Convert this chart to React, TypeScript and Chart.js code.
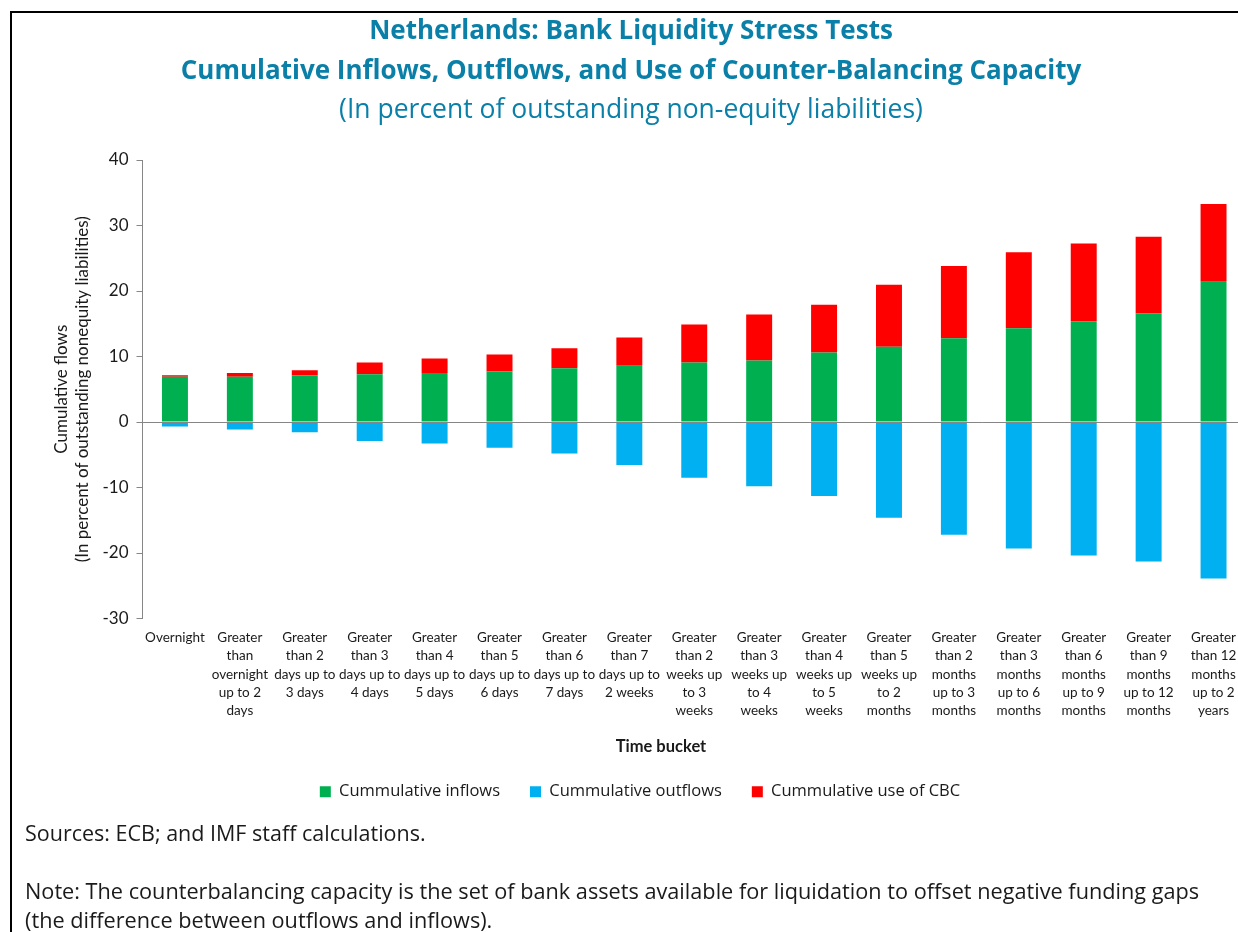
import React, { useEffect, useRef } from "react";
import { Chart, registerables } from "chart.js";

Chart.register(...registerables);

const categories: string[][] = [
  ["Overnight"],
  ["Greater", "than", "overnight", "up to 2", "days"],
  ["Greater", "than 2", "days up to", "3 days"],
  ["Greater", "than 3", "days up to", "4 days"],
  ["Greater", "than 4", "days up to", "5 days"],
  ["Greater", "than 5", "days up to", "6 days"],
  ["Greater", "than 6", "days up to", "7 days"],
  ["Greater", "than 7", "days up to", "2 weeks"],
  ["Greater", "than 2", "weeks up", "to 3", "weeks"],
  ["Greater", "than 3", "weeks up", "to 4", "weeks"],
  ["Greater", "than 4", "weeks up", "to 5", "weeks"],
  ["Greater", "than 5", "weeks up", "to 2", "months"],
  ["Greater", "than 2", "months", "up to 3", "months"],
  ["Greater", "than 3", "months", "up to 6", "months"],
  ["Greater", "than 6", "months", "up to 9", "months"],
  ["Greater", "than 9", "months", "up to 12", "months"],
  ["Greater", "than 12", "months", "up to 2", "years"],
];

const inflows = [6.9, 6.9, 7.1, 7.3, 7.5, 7.7, 8.2, 8.6, 9.1, 9.4, 10.6, 11.5, 12.8, 14.3, 15.4, 16.6, 21.4];
const outflows = [-0.7, -1.15, -1.55, -2.9, -3.3, -3.95, -4.8, -6.55, -8.5, -9.8, -11.3, -14.6, -17.2, -19.3, -20.4, -21.3, -23.9];
const cbcUse = [0.25, 0.6, 0.8, 1.8, 2.2, 2.6, 3.05, 4.3, 5.8, 7.0, 7.3, 9.45, 11.0, 11.6, 11.85, 11.7, 11.9];

const seriesNames = ["Cummulative inflows", "Cummulative outflows", "Cummulative use of CBC"];
const seriesColors = ["#00B050", "#00B0F0", "#FF0000"];

const titleLines = [
  "Netherlands: Bank Liquidity Stress Tests",
  "Cumulative Inflows, Outflows, and Use of Counter-Balancing Capacity",
];
const subtitleText = "(In percent of outstanding non-equity liabilities)";
const yTitleLines = ["Cumulative flows", "(In percent of outstanding nonequity liabilities)"];
const xTitleText = "Time bucket";
const sourcesText = "Sources: ECB; and IMF staff calculations.";
const noteLines = [
  "Note: The counterbalancing capacity is the set of bank assets available for liquidation to offset negative funding gaps",
  "(the difference between outflows and inflows).",
];

const yMin = -30;
const yMax = 40;
const yStep = 10;

const TITLE_COLOR = "#0A7FA8";

const zeroLinePlugin = {
  id: "zeroLine",
  afterDatasetsDraw(chart: any) {
    const { ctx, chartArea, scales } = chart;
    const y = Math.round(scales.y.getPixelForValue(0)) + 0.5;
    ctx.save();
    ctx.strokeStyle = "#868686";
    ctx.lineWidth = 1;
    ctx.beginPath();
    ctx.moveTo(chartArea.left, y);
    ctx.lineTo(chartArea.right + 20, y);
    ctx.stroke();
    ctx.restore();
  },
};

const legendShiftPlugin = {
  id: "legendShift",
  afterLayout(chart: any) {
    const lg = chart.legend;
    if (lg) {
      lg.left += 9;
      lg.right += 9;
    }
  },
};

export default function App() {
  const canvasRef = useRef<HTMLCanvasElement | null>(null);

  useEffect(() => {
    if (!canvasRef.current) return;
    const chart = new Chart(canvasRef.current, {
      type: "bar",
      data: {
        labels: categories,
        datasets: [
          { label: seriesNames[0], data: inflows, backgroundColor: seriesColors[0] },
          { label: seriesNames[1], data: outflows, backgroundColor: seriesColors[1] },
          { label: seriesNames[2], data: cbcUse, backgroundColor: seriesColors[2] },
        ],
      },
      plugins: [zeroLinePlugin, legendShiftPlugin],
      options: {
        responsive: false,
        animation: false,
        devicePixelRatio: 1,
        layout: { padding: { left: 16, right: 16, top: 0, bottom: 0 } },
        datasets: {
          bar: { categoryPercentage: 1, barPercentage: 0.4, borderWidth: 0 },
        },
        plugins: {
          title: {
            display: true,
            text: titleLines,
            color: TITLE_COLOR,
            font: { family: "'Open Sans'", size: 26, weight: "bold", lineHeight: 40 / 26 },
            padding: { top: 12, bottom: 0 },
          },
          subtitle: {
            display: true,
            text: subtitleText,
            color: TITLE_COLOR,
            font: { family: "'Open Sans'", size: 26.5, weight: "normal", lineHeight: 1.2 },
            padding: { top: 3, bottom: 33.2 },
          },
          legend: {
            position: "bottom",
            labels: {
              boxWidth: 11,
              boxHeight: 11,
              padding: 30,
              color: "#1a1a1a",
              font: { family: "'Open Sans'", size: 16.5 },
            },
          },
          tooltip: { enabled: false },
        },
        scales: {
          x: {
            stacked: true,
            offset: true,
            grid: { display: false },
            border: { display: false },
            afterFit: (scale: any) => {
              scale.height = 135;
            },
            ticks: {
              autoSkip: false,
              maxRotation: 0,
              minRotation: 0,
              padding: 2,
              color: "#1a1a1a",
              font: { family: "Lato", size: 13.5, lineHeight: 18.3 / 13.5 },
            },
          },
          y: {
            stacked: true,
            min: yMin,
            max: yMax,
            afterFit: (scale: any) => {
              scale.width = 126.5;
            },
            ticks: {
              stepSize: yStep,
              padding: 8,
              color: "#1a1a1a",
              font: { family: "Lato", size: 17 },
            },
            grid: {
              drawOnChartArea: false,
              drawTicks: true,
              tickLength: 6,
              tickColor: "#868686",
              color: "#868686",
            },
            border: { display: true, color: "#868686", width: 1 },
            title: {
              display: true,
              text: yTitleLines,
              color: "#1a1a1a",
              font: { family: "Lato", size: 17, lineHeight: 21 / 17 },
              padding: { top: 35.5, bottom: 0 },
            },
          },
        },
      },
    } as any);
    return () => chart.destroy();
  }, []);

  return (
    <div
      style={{
        position: "absolute",
        left: 0,
        top: 0,
        width: 1238,
        height: 932,
        overflow: "hidden",
        background: "#ffffff",
      }}
    >
      <canvas
        ref={canvasRef}
        width={1262}
        height={810}
        style={{ position: "absolute", left: 0, top: 0, width: 1262, height: 810 }}
      />
      <div
        style={{
          position: "absolute",
          left: 10,
          top: 11,
          width: 1400,
          height: 1200,
          borderLeft: "2px solid #000",
          borderTop: "2px solid #000",
          pointerEvents: "none",
        }}
      />
      <div
        style={{
          position: "absolute",
          left: 561,
          top: 736,
          width: 200,
          textAlign: "center",
          fontFamily: "Lato",
          fontWeight: "bold",
          fontSize: 16.5,
          lineHeight: "20px",
          color: "#1a1a1a",
        }}
      >
        {xTitleText}
      </div>
      <div
        style={{
          position: "absolute",
          left: 25,
          top: 819,
          whiteSpace: "nowrap",
          fontFamily: "'Open Sans'",
          fontSize: 21.5,
          lineHeight: "28px",
          color: "#1a1a1a",
        }}
      >
        {sourcesText}
      </div>
      <div
        style={{
          position: "absolute",
          left: 25,
          top: 876,
          whiteSpace: "nowrap",
          fontFamily: "'Open Sans'",
          fontSize: 21.7,
          lineHeight: "29px",
          color: "#1a1a1a",
        }}
      >
        {noteLines.map((l, i) => (
          <div key={i}>{l}</div>
        ))}
      </div>
    </div>
  );
}
